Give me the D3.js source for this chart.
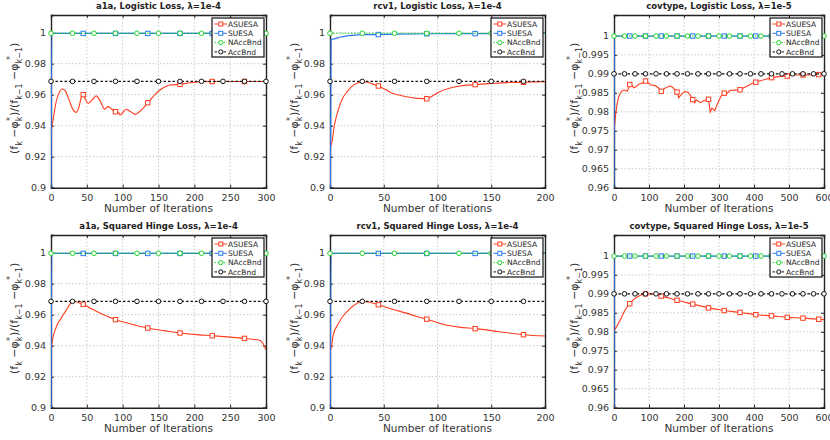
<!DOCTYPE html>
<html><head><meta charset="utf-8">
<script src="https://cdn.jsdelivr.net/npm/d3@7"></script>
<style>
body{margin:0;background:#fff;}
svg{display:block;font-family:"DejaVu Sans",sans-serif;}
</style></head><body>
<svg id="chart" width="830" height="440"></svg>
<script>
// ---------- data ----------
const titles = [
  "a1a, Logistic Loss, \u03bb=1e-4",
  "rcv1, Logistic Loss, \u03bb=1e-4",
  "covtype, Logistic Loss, \u03bb=1e-5",
  "a1a, Squared Hinge Loss, \u03bb=1e-4",
  "rcv1, Squared Hinge Loss, \u03bb=1e-4",
  "covtype, Squared Hinge Loss, \u03bb=1e-5"
];
const seriesNames = ["ASUESA", "SUESA", "NAccBnd", "AccBnd"];
const xMax = [300, 200, 600, 300, 200, 600];
const xTicks300 = [0, 50, 100, 150, 200, 250, 300];
const xTicks200 = [0, 50, 100, 150, 200];
const xTicks600 = [0, 100, 200, 300, 400, 500, 600];
const yTicksA = [0.9, 0.92, 0.94, 0.96, 0.98, 1];
const yTicksC = [0.96, 0.965, 0.97, 0.975, 0.98, 0.985, 0.99, 0.995, 1];
const yDomainA = [0.9, 1.0114];
const yDomainC = [0.96, 1.0055];
const accBnd = [0.9686, 0.9686, 0.99, 0.9686, 0.9686, 0.99];
const naccBnd = [0.9996, 0.9996, 0.99995, 0.9996, 0.9996, 0.99995];

const asuesaA1aLog = [[0,0.936],[3,0.944],[7,0.955],[11,0.961],[16,0.9637],[20,0.9625],[25,0.957],[30,0.951],[35,0.9486],[39,0.952],[42,0.958],[45,0.960],[48,0.957],[52,0.9545],[57,0.9565],[63,0.9592],[68,0.9565],[75,0.9506],[79,0.9523],[83,0.9515],[87,0.9497],[90,0.949],[93,0.949],[97,0.9469],[101,0.949],[105,0.9506],[109,0.9497],[113,0.9485],[118,0.9473],[122,0.9485],[128,0.951],[135,0.9548],[140,0.9575],[145,0.960],[150,0.9622],[155,0.964],[160,0.9653],[166,0.9662],[180,0.9667],[195,0.9677],[210,0.9684],[225,0.9685],[240,0.9685],[255,0.9685],[270,0.9685],[285,0.9685],[300,0.9685]];
const asuesaRcv1Log = [[0,0.926],[2,0.930],[4,0.940],[6,0.946],[9,0.953],[12,0.958],[16,0.962],[20,0.9652],[25,0.9674],[30,0.9684],[35,0.968],[40,0.9668],[45,0.9656],[52,0.9632],[58,0.9609],[66,0.9595],[74,0.9583],[82,0.9576],[90,0.9574],[96,0.9595],[102,0.9619],[110,0.964],[121,0.9656],[135,0.9665],[150,0.9672],[165,0.9678],[180,0.968],[200,0.9684]];
const asuesaCovLog = [[0,0.975],[2,0.9768],[5,0.9795],[9,0.9821],[13,0.9838],[18,0.9849],[23,0.9855],[28,0.9858],[33,0.9856],[37,0.9854],[42,0.9862],[45,0.9872],[50,0.9872],[56,0.9863],[63,0.9866],[70,0.9872],[80,0.9876],[90,0.9881],[97,0.9877],[104,0.9871],[118,0.9869],[128,0.9862],[135,0.9854],[140,0.9858],[147,0.9863],[154,0.9866],[161,0.9868],[168,0.9864],[175,0.9858],[180,0.9852],[185,0.9837],[189,0.9842],[195,0.9848],[202,0.9854],[208,0.9852],[213,0.985],[219,0.9842],[225,0.9832],[230,0.9824],[235,0.9831],[241,0.9828],[247,0.9824],[254,0.9828],[261,0.9831],[270,0.9833],[275,0.9799],[280,0.981],[284,0.9806],[288,0.9803],[294,0.9818],[300,0.983],[305,0.984],[315,0.9849],[322,0.9847],[331,0.9856],[345,0.9857],[360,0.9858],[372,0.9864],[384,0.9869],[395,0.9875],[405,0.9878],[418,0.9882],[431,0.9885],[450,0.989],[465,0.9892],[479,0.9894],[495,0.9894],[507,0.9897],[520,0.9897],[540,0.9897],[560,0.9897],[585,0.9898],[600,0.9898]];
const asuesaA1aHinge = [[0,0.937],[1,0.9402],[3,0.946],[6,0.9503],[9,0.954],[13,0.9568],[17,0.960],[22,0.9633],[26,0.9665],[30,0.9687],[35,0.9683],[40,0.9676],[45,0.9667],[55,0.9642],[68,0.9611],[80,0.9587],[90,0.9568],[100,0.9554],[115,0.9536],[135,0.9514],[158,0.9497],[180,0.9482],[200,0.9473],[225,0.9464],[250,0.9455],[270,0.9447],[285,0.944],[292,0.9434],[296,0.9413],[300,0.9374]];
const asuesaRcv1Hinge = [[0,0.937],[1,0.9381],[3,0.9468],[8,0.9545],[12,0.959],[16,0.9621],[23,0.9664],[30,0.9686],[37,0.968],[45,0.9664],[58,0.9635],[71,0.961],[80,0.959],[90,0.9571],[108,0.9534],[120,0.952],[135,0.951],[158,0.949],[180,0.9471],[200,0.9462]];
const asuesaCovHinge = [[0,0.9802],[2,0.9805],[10,0.9818],[17,0.983],[24,0.9843],[31,0.9856],[38,0.9866],[45,0.9874],[55,0.9884],[65,0.9891],[77,0.9897],[90,0.99],[105,0.99],[122,0.9899],[135,0.9894],[157,0.9889],[180,0.9883],[225,0.9873],[270,0.9863],[315,0.9856],[360,0.9851],[405,0.9845],[450,0.9842],[495,0.9838],[540,0.9836],[585,0.9833],[600,0.9832]];

const suesaA1aLog = [[0,0.85],[1,0.9995],[45,0.9995],[90,0.9995],[135,0.9995],[180,0.9995],[225,0.9995],[270,0.9995],[300,0.9995]];
const suesaRcv1Log = [[0,0.85],[1,0.9955],[5,0.9962],[10,0.9972],[15,0.9978],[20,0.9982],[30,0.9987],[45,0.9988],[60,0.999],[90,0.9993],[135,0.9994],[180,0.9995],[200,0.9995]];
const suesaCovLog = [[0,0.94],[1,0.99995],[45,0.99995],[90,0.99995],[135,0.99995],[180,0.99995],[225,0.99995],[270,0.99995],[315,0.99995],[360,0.99995],[405,0.99995],[450,0.99995],[495,0.99995],[540,0.99995],[585,0.99995],[600,0.99995]];
const suesaA1aHinge = [[0,0.85],[1,0.9995],[45,0.9995],[90,0.9995],[135,0.9995],[180,0.9995],[225,0.9995],[270,0.9995],[300,0.9995]];
const suesaRcv1Hinge = [[0,0.85],[1,0.9995],[45,0.9995],[90,0.9995],[135,0.9995],[180,0.9995],[200,0.9995]];
const suesaCovHinge = [[0,0.94],[1,0.99995],[45,0.99995],[90,0.99995],[135,0.99995],[180,0.99995],[225,0.99995],[270,0.99995],[315,0.99995],[360,0.99995],[405,0.99995],[450,0.99995],[495,0.99995],[540,0.99995],[585,0.99995],[600,0.99995]];

const asuesaAll = [asuesaA1aLog, asuesaRcv1Log, asuesaCovLog, asuesaA1aHinge, asuesaRcv1Hinge, asuesaCovHinge];
const suesaAll = [suesaA1aLog, suesaRcv1Log, suesaCovLog, suesaA1aHinge, suesaRcv1Hinge, suesaCovHinge];

// ---------- layout / style ----------
const colors = {ASUESA:"#ff3d1f", SUESA:"#2a78f0", NAccBnd:"#22d42a", AccBnd:"#111"};
const colsX = [[51,266],[330,545],[614,824]];
const rowsY = [[15,187.7],[235,407.7]];
const ylabX = [15, 295, 575];

const svg = d3.select("#chart");
const defs = svg.append("defs");

for (let p = 0; p < 6; p++) {
  const c = p % 3, r = Math.floor(p / 3);
  const [x0, x1] = colsX[c], [y0, y1] = rowsY[r];
  const isC = (c === 2);
  const xs = d3.scaleLinear().domain([0, xMax[p]]).range([x0, x1]);
  const ys = d3.scaleLinear().domain(isC ? yDomainC : yDomainA).range([y1, y0]);
  const xt = xMax[p] === 300 ? xTicks300 : (xMax[p] === 200 ? xTicks200 : xTicks600);
  const yt = isC ? yTicksC : yTicksA;
  const g = svg.append("g");

  defs.append("clipPath").attr("id", "clip" + p).append("rect")
    .attr("x", x0).attr("y", y0).attr("width", x1 - x0).attr("height", y1 - y0);

  // grid
  g.append("g").selectAll("line").data(xt.slice(1, -1)).join("line")
    .attr("x1", d => xs(d)).attr("x2", d => xs(d)).attr("y1", y0).attr("y2", y1)
    .attr("stroke", "#c4c4c4").attr("stroke-width", 0.9).attr("stroke-dasharray", "1.5,2");
  g.append("g").selectAll("line").data(yt.slice(1)).join("line")
    .attr("y1", d => ys(d)).attr("y2", d => ys(d)).attr("x1", x0).attr("x2", x1)
    .attr("stroke", "#c4c4c4").attr("stroke-width", 0.9).attr("stroke-dasharray", "1.5,2");

  // axes (ticks inward)
  const ax = g.append("g").attr("class", "ax");
  const bottom = d3.axisBottom(xs).tickValues(xt).tickSize(-3).tickPadding(7).tickFormat(d3.format("d"));
  const top = d3.axisTop(xs).tickValues(xt).tickSize(-3).tickFormat("");
  const left = d3.axisLeft(ys).tickValues(yt).tickSize(-3).tickPadding(5).tickFormat(d => String(+d.toFixed(3)));
  const right = d3.axisRight(ys).tickValues(yt).tickSize(-3).tickFormat("");
  ax.append("g").attr("transform", `translate(0,${y1})`).call(bottom);
  ax.append("g").attr("transform", `translate(0,${y0})`).call(top);
  ax.append("g").attr("transform", `translate(${x0},0)`).call(left);
  ax.append("g").attr("transform", `translate(${x1},0)`).call(right);
  ax.selectAll(".domain").attr("stroke", "#222").attr("stroke-width", 1.4);
  ax.selectAll(".tick line").attr("stroke", "#222");
  ax.selectAll(".tick text").attr("fill", "#333").style("font-size", "9.5px").style("font-family", "DejaVu Sans, sans-serif");

  const line = d3.line().x(d => xs(d[0])).y(d => ys(d[1]))
    .curve(p === 2 ? d3.curveLinear : d3.curveMonotoneX);
  const clip = "url(#clip" + p + ")";

  // ASUESA
  g.append("path").datum(asuesaAll[p]).attr("d", line).attr("fill", "none")
    .attr("stroke", colors.ASUESA).attr("stroke-width", 1.1).attr("clip-path", clip);
  g.append("g").selectAll("rect").data(asuesaAll[p].filter(d => d[0] > 0 && d[0] % 45 === 0)).join("rect")
    .attr("x", d => xs(d[0]) - 2.2).attr("y", d => ys(d[1]) - 2.2).attr("width", 4.4).attr("height", 4.4)
    .attr("fill", "#fff").attr("stroke", colors.ASUESA).attr("stroke-width", 1);

  // SUESA
  g.append("path").datum(suesaAll[p]).attr("d", d3.line().x(d => xs(d[0])).y(d => ys(d[1])).curve(d3.curveMonotoneX))
    .attr("fill", "none").attr("stroke", colors.SUESA).attr("stroke-width", 1.2).attr("clip-path", clip);
  g.append("g").selectAll("rect").data(suesaAll[p].filter(d => d[0] > 0 && d[0] % 45 === 0)).join("rect")
    .attr("x", d => xs(d[0]) - 2.2).attr("y", d => ys(d[1]) - 2.2).attr("width", 4.4).attr("height", 4.4)
    .attr("fill", "#fff").attr("stroke", colors.SUESA).attr("stroke-width", 1);

  // NAccBnd (dotted) and AccBnd (dashed), circle every 30 iterations
  const marks = d3.range(0, xMax[p] + 1, 30);
  [[naccBnd[p], colors.NAccBnd, "1.5,1.5"], [accBnd[p], colors.AccBnd, "2.5,2"]].forEach(([v, col, dash]) => {
    g.append("line").attr("x1", xs(0)).attr("x2", xs(xMax[p])).attr("y1", ys(v)).attr("y2", ys(v))
      .attr("stroke", col).attr("stroke-width", 1.1).attr("stroke-dasharray", dash);
    g.append("g").selectAll("circle").data(marks).join("circle")
      .attr("cx", d => xs(d)).attr("cy", ys(v)).attr("r", 2.3)
      .attr("fill", "#fff").attr("stroke", col).attr("stroke-width", 1);
  });

  // title
  g.append("text").attr("x", (x0 + x1) / 2).attr("y", y0 - 6.5).attr("text-anchor", "middle")
    .style("font-size", "8.5px").style("font-weight", "bold").attr("fill", "#222").text(titles[p]);
  // x label
  g.append("text").attr("x", (x0 + x1) / 2).attr("y", y1 + 24.5).attr("text-anchor", "middle")
    .style("font-size", "10.5px").attr("fill", "#333").text("Number of Iterations");
  // y label
  const yl = g.append("text").attr("transform", `translate(${ylabX[c] + 3},${(y0 + y1) / 2 - 3}) rotate(-90)`)
    .attr("text-anchor", "middle").style("font-size", "11px").attr("fill", "#333");
  yl.append("tspan").text("(f");
  yl.append("tspan").attr("dy", 3.5).style("font-size", "8px").text("k");
  yl.append("tspan").attr("dy", -3.5).text(" \u2212\u03c6");
  yl.append("tspan").attr("dy", 3.5).style("font-size", "8px").text("k");
  yl.append("tspan").attr("dx", -4.5).attr("dy", -9).style("font-size", "8px").text("*");
  yl.append("tspan").attr("dx", 1).attr("dy", 5.5).text(")/(f");
  yl.append("tspan").attr("dy", 3.5).style("font-size", "8px").text("k\u22121");
  yl.append("tspan").attr("dy", -3.5).text(" \u2212\u03c6");
  yl.append("tspan").attr("dy", 3.5).style("font-size", "8px").text("k\u22121");
  yl.append("tspan").attr("dx", -13).attr("dy", -9).style("font-size", "8px").text("*");
  yl.append("tspan").attr("dx", 9).attr("dy", 5.5).text(")");

  // legend
  const lx = x1 - 54, ly = y0 + 3;
  const lg = g.append("g");
  lg.append("rect").attr("x", lx).attr("y", ly).attr("width", 52).attr("height", 39)
    .attr("fill", "#fff").attr("stroke", "#111").attr("stroke-width", 1.2);
  seriesNames.forEach((name, i) => {
    const yy = ly + 6 + i * 9.3;
    const col = colors[name];
    const dash = name === "NAccBnd" ? "1.5,1.5" : (name === "AccBnd" ? "2.5,2" : null);
    lg.append("line").attr("x1", lx + 2.5).attr("x2", lx + 15).attr("y1", yy).attr("y2", yy)
      .attr("stroke", col).attr("stroke-width", 1).attr("stroke-dasharray", dash);
    if (i < 2) {
      lg.append("rect").attr("x", lx + 6.8).attr("y", yy - 2).attr("width", 4).attr("height", 4)
        .attr("fill", "#fff").attr("stroke", col).attr("stroke-width", 1);
    } else {
      lg.append("circle").attr("cx", lx + 8.8).attr("cy", yy).attr("r", 2.1)
        .attr("fill", "#fff").attr("stroke", col).attr("stroke-width", 1);
    }
    lg.append("text").attr("x", lx + 16).attr("y", yy + 2.6).style("font-size", "7.5px")
      .attr("fill", "#222").text(name);
  });
}
</script>
</body></html>
